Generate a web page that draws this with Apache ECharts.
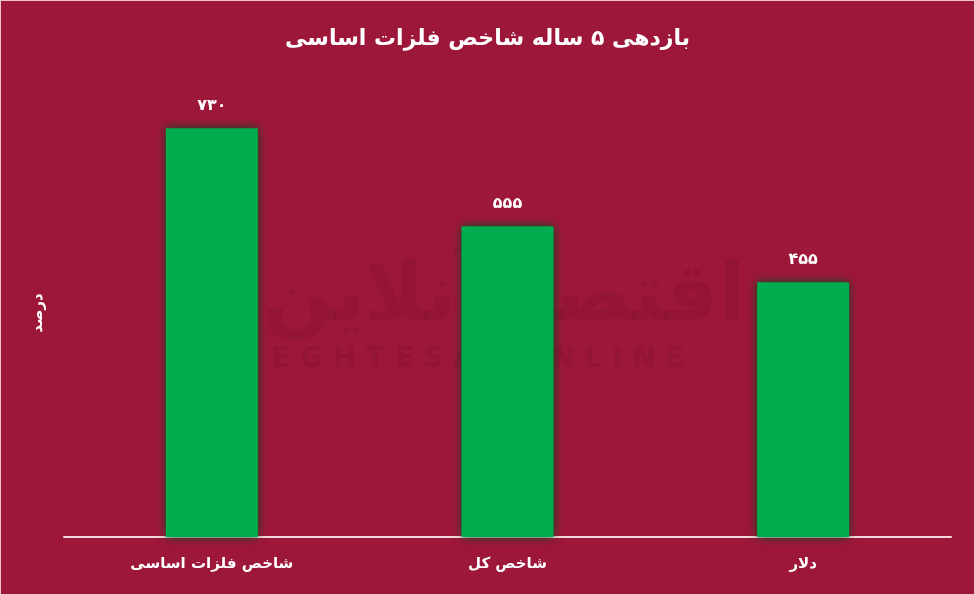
<!DOCTYPE html>
<html>
<head>
<meta charset="utf-8">
<script src="https://cdn.jsdelivr.net/npm/echarts@6/dist/echarts.min.js"></script>
<style>
html,body{margin:0;padding:0;background:#f0c9d3;}
#c{width:975px;height:595px;box-sizing:border-box;border:1px solid #eec3cf;}
</style>
</head>
<body>
<div id="c"></div>
<script>
const titleText = 'بازدهی ۵ ساله شاخص فلزات اساسی';
const yName = 'درصد';
const categories = ['شاخص فلزات اساسی', 'شاخص کل', 'دلار'];
const values = [730, 555, 455];

const toFa = s => String(s).replace(/\d/g, d => '۰۱۲۳۴۵۶۷۸۹'[d]);
const FONT = 'DejaVu Sans';

const chart = echarts.init(document.getElementById('c'));
chart.setOption({
  backgroundColor: '#9d173b',
  title: {
    text: titleText, left: 'center', top: 22,
    textStyle: {color: '#ffffff', fontSize: 22, fontWeight: 'bold', fontFamily: FONT}
  },
  graphic: [
    {type: 'text', left: 262, top: 258, z: 0, silent: true,
     style: {text: 'اقتصادآنلاین', fontSize: 80, fontWeight: 'bold', fontFamily: FONT, fill: 'rgba(60,0,20,0.09)'}},
    {type: 'text', left: 270, top: 345, z: 0, silent: true,
     style: {text: 'E G H T E S A D O N L I N E', fontSize: 28, fontWeight: 'bold', fontFamily: FONT, fill: 'rgba(60,0,20,0.09)'}}
  ],
  grid: {left: 63, right: 23, top: 88, bottom: 57},
  xAxis: {
    type: 'category', data: categories,
    axisLine: {lineStyle: {color: '#f4d9e0', width: 2}},
    axisTick: {show: false},
    axisLabel: {color: '#ffffff', fontSize: 15, fontWeight: 'bold', fontFamily: FONT, margin: 20}
  },
  yAxis: {
    type: 'value', min: 0, max: 800,
    name: yName, nameLocation: 'middle', nameGap: 18,
    nameTextStyle: {color: '#ffffff', fontSize: 15, fontWeight: 'bold', fontFamily: FONT},
    splitLine: {show: false}, axisLine: {show: false}, axisTick: {show: false}, axisLabel: {show: false}
  },
  series: [{
    type: 'bar', data: values, barWidth: 92, z: 5,
    itemStyle: {color: '#00ad4e', shadowColor: 'rgba(0,75,25,1)', shadowBlur: 9},
    label: {
      show: true, position: 'top', distance: 14,
      color: '#ffffff', fontSize: 16, fontWeight: 'bold', fontFamily: FONT,
      formatter: p => toFa(p.value)
    }
  }]
});
</script>
</body>
</html>
